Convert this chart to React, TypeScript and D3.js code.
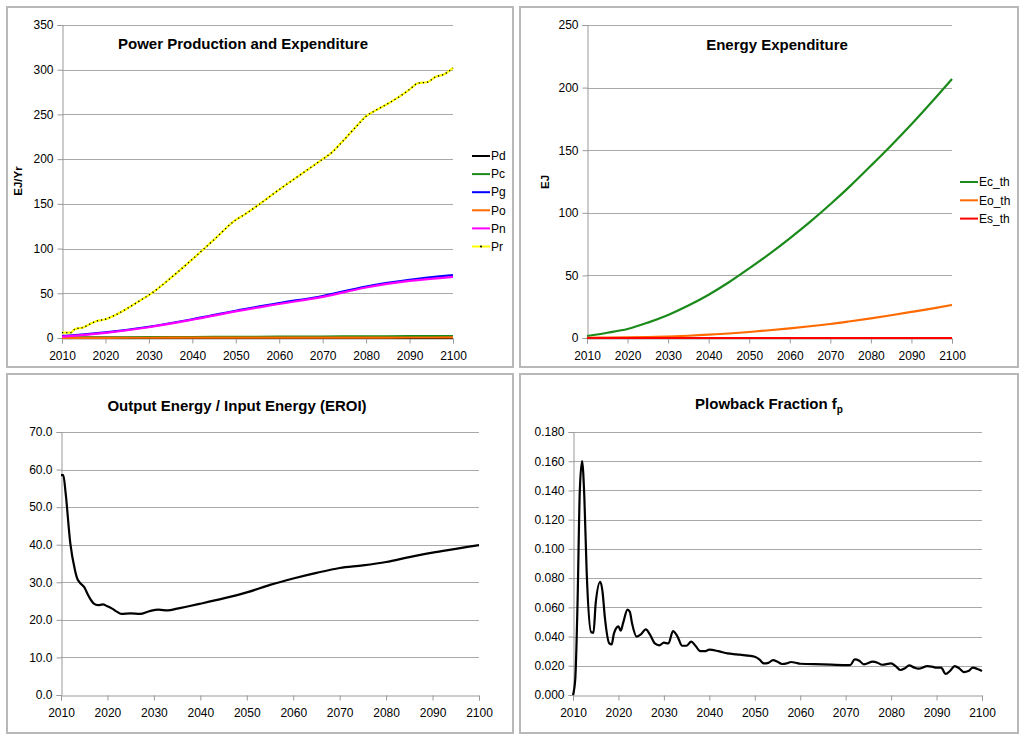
import { useEffect, useRef } from "react";
import * as d3 from "d3";

// ---- data ----
const decadeTicks = [2010, 2020, 2030, 2040, 2050, 2060, 2070, 2080, 2090, 2100];

const prYears = [2010, 2012, 2013, 2015, 2017, 2018, 2020, 2022, 2025, 2028, 2030, 2032, 2035, 2040, 2045, 2050, 2052, 2055, 2060, 2065, 2070, 2072, 2075, 2078, 2080, 2082, 2085, 2088, 2090, 2092, 2094, 2096, 2098, 2100];
const prValues = [6, 6, 10, 12, 17, 19, 21, 25, 33, 42, 48, 55, 67, 88, 110, 132, 138, 148, 166, 183, 200, 207, 222, 238, 248, 254, 262, 271, 278, 285, 286, 292, 295, 302];
const pgValues = [2, 6.3, 12.6, 21, 30.5, 39, 47, 57.6, 65, 70.3];
const pnValues = [1.6, 5.8, 12, 20.4, 29.8, 38, 46, 56.5, 63.8, 68.4];
const pcValues = [0.5, 0.7, 0.9, 1.1, 1.3, 1.5, 1.7, 1.9, 2.0, 2.2];
const poValues = [0.2, 0.25, 0.3, 0.35, 0.4, 0.45, 0.5, 0.5, 0.55, 0.6];
const pdValues = [0.1, 0.1, 0.1, 0.1, 0.1, 0.1, 0.1, 0.1, 0.1, 0.1];
const powerTicks = [0, 50, 100, 150, 200, 250, 300, 350];

const energyYears = [2010, 2015, 2020, 2025, 2030, 2035, 2040, 2045, 2050, 2055, 2060, 2065, 2070, 2075, 2080, 2085, 2090, 2095, 2100];
const ecValues = [1.6, 4.2, 7.2, 12.3, 18.4, 25.9, 34.6, 44.5, 55.6, 67.2, 79.6, 92.7, 106.8, 121.7, 137.6, 153.8, 170.7, 188.5, 206.9];
const eoValues = [0.2, 0.3, 0.5, 0.8, 1.2, 1.8, 2.7, 3.6, 4.8, 6.2, 7.7, 9.4, 11.2, 13.4, 15.7, 18.2, 20.8, 23.5, 26.4];
const esValues = [0, 0, 0, 0, 0, 0, 0, 0, 0, 0, 0, 0, 0, 0, 0, 0, 0, 0, 0];
const energyTicks = [0, 50, 100, 150, 200, 250];

const eroiYears = [2010, 2010.5, 2011, 2012, 2013, 2013.5, 2014, 2015, 2016, 2017, 2018, 2019, 2020, 2021, 2022, 2023, 2025, 2027, 2029, 2031, 2033, 2035, 2037, 2040, 2045, 2050, 2055, 2060, 2065, 2070, 2075, 2080, 2085, 2090, 2095, 2100];
const eroiValues = [58.5, 58.5, 53.7, 40.4, 33.3, 31, 30, 28.7, 26.2, 24.4, 23.9, 24.1, 23.6, 23.0, 22.2, 21.6, 21.7, 21.6, 22.3, 22.7, 22.5, 23.0, 23.5, 24.3, 25.7, 27.3, 29.3, 31.0, 32.5, 33.8, 34.5, 35.4, 36.7, 37.9, 38.9, 39.9];
const eroiTicks = [0, 10, 20, 30, 40, 50, 60, 70];

const fpYears = [2010, 2010.5, 2011, 2011.5, 2012, 2012.5, 2013, 2014, 2014.5, 2015, 2016, 2016.5, 2017, 2018, 2018.5, 2019, 2020, 2020.5, 2021, 2022, 2022.5, 2023, 2024, 2025, 2026, 2027, 2028, 2029, 2030, 2031, 2032, 2033, 2034, 2035, 2036, 2037, 2038, 2039, 2040, 2042, 2044, 2046, 2048, 2050, 2051, 2052, 2053, 2054, 2055, 2056, 2057, 2058, 2059, 2060, 2065, 2070, 2071, 2072, 2073, 2074, 2076, 2077, 2078, 2080, 2081, 2082, 2083, 2084, 2085, 2086, 2088, 2089, 2090, 2091, 2092, 2093, 2094, 2095, 2096, 2097, 2098, 2099, 2100];
const fpValues = [0, 0.011, 0.063, 0.14, 0.16, 0.135, 0.085, 0.043, 0.0426, 0.063, 0.0775, 0.0706, 0.0535, 0.0353, 0.0346, 0.042, 0.047, 0.044, 0.049, 0.0585, 0.057, 0.049, 0.04, 0.0417, 0.0449, 0.041, 0.0353, 0.034, 0.0358, 0.0353, 0.0437, 0.04, 0.0337, 0.0337, 0.0365, 0.0335, 0.03, 0.03, 0.031, 0.03, 0.0285, 0.0278, 0.0271, 0.0262, 0.0244, 0.0216, 0.022, 0.0239, 0.0228, 0.0212, 0.0216, 0.0226, 0.0221, 0.0214, 0.021, 0.0205, 0.0205, 0.0244, 0.0235, 0.021, 0.0228, 0.0221, 0.0207, 0.0216, 0.0198, 0.0171, 0.0182, 0.0203, 0.0189, 0.018, 0.0198, 0.0194, 0.0187, 0.0187, 0.0144, 0.0166, 0.0198, 0.0182, 0.0157, 0.0164, 0.0187, 0.0178, 0.0164];
const fpTicks = [0, 0.02, 0.04, 0.06, 0.08, 0.1, 0.12, 0.14, 0.16, 0.18];

const FONT = "'Liberation Sans', Arial, Helvetica, sans-serif";

interface Series {
  name: string;
  color: string;
  years: number[];
  values: number[];
  dotted?: boolean;
}

interface PanelCfg {
  box: [number, number, number, number];
  xRange: [number, number];
  yRange: [number, number]; // [bottom px, top px]
  yTicks: number[];
  yFormat: (v: number) => string;
  title: string;
  titleX: number;
  titleY: number;
  titleSub?: string;
  yLabel?: string;
  yLabelX?: number;
  yLabelY?: number;
  series: Series[];
  legend?: { x: number; y: number; step: number };
}

function drawPanel(svg: d3.Selection<SVGSVGElement, unknown, null, undefined>, cfg: PanelCfg) {
  const [bx, by, bw, bh] = cfg.box;
  svg
    .append("rect")
    .attr("x", bx)
    .attr("y", by)
    .attr("width", bw)
    .attr("height", bh)
    .attr("fill", "#fff")
    .attr("stroke", "#b8b8b8")
    .attr("stroke-width", 2);

  const yMax = cfg.yTicks[cfg.yTicks.length - 1];
  const x = d3.scaleLinear().domain([2010, 2100]).range(cfg.xRange);
  const y = d3.scaleLinear().domain([0, yMax]).range(cfg.yRange);
  const g = svg.append("g");

  // gridlines
  g.selectAll("line.grid")
    .data(cfg.yTicks.filter((t) => t !== 0))
    .join("line")
    .attr("x1", cfg.xRange[0])
    .attr("x2", cfg.xRange[1])
    .attr("y1", (d) => Math.round(y(d)) + 0.5)
    .attr("y2", (d) => Math.round(y(d)) + 0.5)
    .attr("stroke", "#a9a9a9")
    .attr("stroke-width", 1);

  // y axis
  g.append("g")
    .attr("transform", `translate(${cfg.xRange[0] + 0.5},0)`)
    .call(d3.axisLeft(y).tickValues(cfg.yTicks).tickSize(5).tickPadding(4).tickFormat((d) => cfg.yFormat(+d)))
    .call((a) => a.select(".domain").attr("stroke", "#999"))
    .call((a) => a.selectAll(".tick line").attr("stroke", "#999"))
    .call((a) => a.selectAll("text").attr("fill", "#000").style("font-size", "12px").style("font-family", FONT));

  // x axis
  g.append("g")
    .attr("transform", `translate(0,${Math.round(cfg.yRange[0]) + 0.5})`)
    .call(d3.axisBottom(x).tickValues(decadeTicks).tickSize(5).tickPadding(8).tickFormat(d3.format("d")))
    .call((a) => a.select(".domain").attr("stroke", "#999"))
    .call((a) => a.selectAll(".tick line").attr("stroke", "#999"))
    .call((a) => a.selectAll("text").attr("fill", "#000").style("font-size", "12px").style("font-family", FONT));

  const line = d3
    .line<[number, number]>()
    .x((d) => x(d[0]))
    .y((d) => y(d[1]))
    .curve(d3.curveMonotoneX);

  cfg.series.forEach((s) => {
    const pts = s.years.map((yr, i) => [yr, s.values[i]] as [number, number]);
    g.append("path")
      .attr("d", line(pts))
      .attr("fill", "none")
      .attr("stroke", s.color)
      .attr("stroke-width", 2.2)
      .attr("stroke-linejoin", "round");
    if (s.dotted) {
      g.append("path")
        .attr("d", line(pts))
        .attr("fill", "none")
        .attr("stroke", "#000")
        .attr("stroke-width", 1.4)
        .attr("stroke-dasharray", "1.2 3");
    }
  });

  // title
  const t = svg
    .append("text")
    .attr("x", cfg.titleX)
    .attr("y", cfg.titleY)
    .attr("text-anchor", "middle")
    .style("font-family", FONT)
    .style("font-size", "15px")
    .style("font-weight", "bold")
    .text(cfg.title);
  if (cfg.titleSub) {
    t.append("tspan").attr("dy", 4).style("font-size", "10px").text(cfg.titleSub);
  }

  if (cfg.yLabel) {
    svg
      .append("text")
      .attr("transform", `translate(${cfg.yLabelX},${cfg.yLabelY}) rotate(-90)`)
      .attr("text-anchor", "middle")
      .style("font-family", FONT)
      .style("font-size", "11.5px")
      .style("font-weight", "bold")
      .text(cfg.yLabel);
  }

  if (cfg.legend) {
    const { x: lx, y: ly, step } = cfg.legend;
    cfg.series.forEach((s, i) => {
      const yy = ly + i * step;
      svg
        .append("line")
        .attr("x1", lx)
        .attr("x2", lx + 18)
        .attr("y1", yy)
        .attr("y2", yy)
        .attr("stroke", s.color)
        .attr("stroke-width", 2);
      if (s.dotted) {
        svg.append("circle").attr("cx", lx + 9).attr("cy", yy).attr("r", 1).attr("fill", "#000");
      }
      svg
        .append("text")
        .attr("x", lx + 19)
        .attr("y", yy)
        .attr("dy", "0.35em")
        .style("font-family", FONT)
        .style("font-size", "12px")
        .text(s.name);
    });
  }
}

export default function App() {
  const svgRef = useRef<SVGSVGElement>(null);

  useEffect(() => {
    if (!svgRef.current) return;
    const svg = d3.select(svgRef.current);
    svg.selectAll("*").remove();

    drawPanel(svg, {
      box: [7, 7, 506, 360],
      xRange: [62, 453],
      yRange: [338, 25],
      yTicks: powerTicks,
      yFormat: (v) => String(v),
      title: "Power Production and Expenditure",
      titleX: 243,
      titleY: 49,
      yLabel: "EJ/Yr",
      yLabelX: 22,
      yLabelY: 181,
      series: [
        { name: "Pd", color: "#000000", years: decadeTicks, values: pdValues },
        { name: "Pc", color: "#1a8a1a", years: decadeTicks, values: pcValues },
        { name: "Pg", color: "#0000ff", years: decadeTicks, values: pgValues },
        { name: "Po", color: "#ff6a00", years: decadeTicks, values: poValues },
        { name: "Pn", color: "#ff00ff", years: decadeTicks, values: pnValues },
        { name: "Pr", color: "#ffff00", years: prYears, values: prValues, dotted: true },
      ],
      legend: { x: 472, y: 156, step: 18.1 },
    });

    drawPanel(svg, {
      box: [520, 7, 498, 360],
      xRange: [587, 952],
      yRange: [338, 25],
      yTicks: energyTicks,
      yFormat: (v) => String(v),
      title: "Energy Expenditure",
      titleX: 777,
      titleY: 50,
      yLabel: "EJ",
      yLabelX: 549,
      yLabelY: 182,
      series: [
        { name: "Ec_th", color: "#1a8a1a", years: energyYears, values: ecValues },
        { name: "Eo_th", color: "#ff6a00", years: energyYears, values: eoValues },
        { name: "Es_th", color: "#ff0000", years: energyYears, values: esValues },
      ],
      legend: { x: 960, y: 182, step: 18.3 },
    });

    drawPanel(svg, {
      box: [7, 374, 506, 359],
      xRange: [61, 479],
      yRange: [695, 432],
      yTicks: eroiTicks,
      yFormat: (v) => v.toFixed(1),
      title: "Output Energy / Input Energy (EROI)",
      titleX: 237,
      titleY: 411,
      series: [{ name: "EROI", color: "#000", years: eroiYears, values: eroiValues }],
    });

    drawPanel(svg, {
      box: [520, 374, 498, 359],
      xRange: [573, 982],
      yRange: [695, 432],
      yTicks: fpTicks,
      yFormat: (v) => v.toFixed(3),
      title: "Plowback Fraction f",
      titleSub: "p",
      titleX: 769,
      titleY: 409,
      series: [{ name: "fp", color: "#000", years: fpYears, values: fpValues }],
    });
  }, []);

  return (
    <div style={{ position: "absolute", left: 0, top: 0, width: 1024, height: 739, background: "#fff" }}>
      <svg ref={svgRef} width={1024} height={739} style={{ display: "block" }} />
    </div>
  );
}
